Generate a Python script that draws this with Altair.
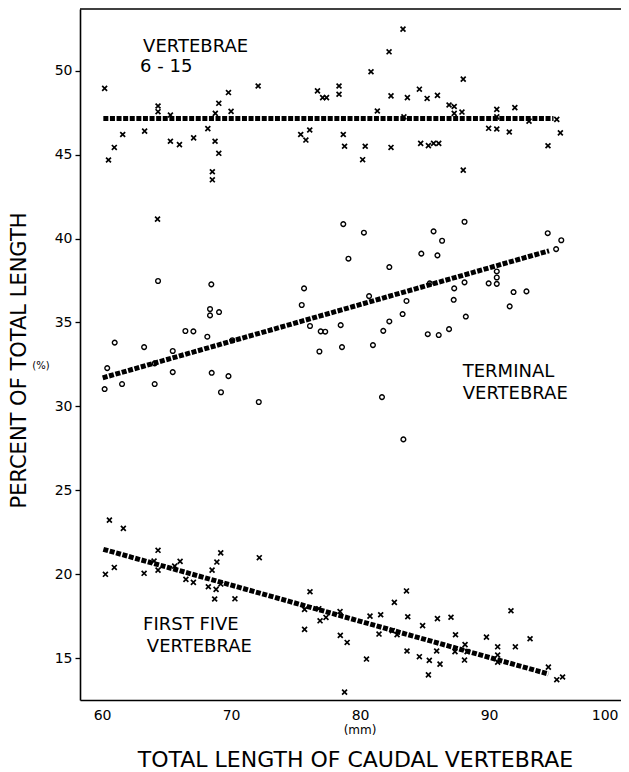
import altair as alt
import pandas as pd

# ---- data ----
# Vertebrae 6-15 (x markers)
top_x = [60.2, 60.5, 60.95, 61.6, 63.3, 64.34, 64.34, 64.3, 65.3, 65.3, 66.0, 67.1, 68.2, 68.76, 69.05,
         68.55, 68.55, 68.78, 69.05, 69.8, 70.0, 72.1, 75.4, 75.8, 76.1, 76.7, 77.1, 77.4, 78.37, 78.37,
         78.7, 78.8, 80.4, 80.2, 80.85, 82.25, 83.33, 81.34, 82.4, 82.4, 83.67, 83.4, 84.6, 85.2, 86.0,
         84.7, 85.3, 85.7, 86.1, 86.9, 87.3, 87.3, 87.9, 88.0, 88.0, 90.6, 90.6, 89.97, 90.6, 92.0,
         91.57, 93.1, 95.25, 95.53, 94.57]
top_y = [48.95, 44.68, 45.43, 46.2, 46.4, 47.9, 47.56, 41.16, 47.36, 45.8, 45.6, 46.0, 46.55, 45.8, 45.08,
         43.98, 43.5, 47.46, 48.06, 48.7, 47.58, 49.09, 46.2, 45.87, 46.47, 48.8, 48.4, 48.4, 49.09, 48.6,
         46.2, 45.5, 45.5, 44.7, 49.94, 51.13, 52.48, 47.6, 48.5, 45.43, 48.4, 47.25, 48.9, 48.35, 48.53,
         45.67, 45.54, 45.67, 45.67, 47.96, 47.87, 47.46, 47.54, 49.5, 44.08, 47.7, 47.25, 46.57, 46.53, 47.8,
         46.35, 47.0, 47.1, 46.3, 45.53]

# Terminal vertebrae (open circles)
mid_x = [60.2, 60.4, 60.98, 61.55, 63.26, 64.08, 64.08, 64.34, 65.48, 65.48, 66.46, 67.08, 68.16, 68.37,
         68.37, 68.47, 68.5, 69.07, 69.22, 69.8, 70.1, 72.15, 75.48, 75.66, 76.12, 76.95, 77.3, 76.85,
         78.5, 78.6, 79.1, 78.7, 80.3, 80.7, 81.0, 81.8, 82.27, 82.27, 81.7, 83.36, 83.3, 83.6, 84.75,
         86.0, 85.7, 86.36, 85.4, 85.25, 86.1, 86.9, 87.3, 87.26, 88.1, 88.2, 88.1, 89.97, 90.6, 90.6,
         90.6, 91.9, 92.9, 91.6, 94.55, 95.6, 95.2]
mid_y = [31.03, 32.28, 33.8, 31.33, 33.53, 32.56, 31.33, 37.47, 33.3, 32.04, 34.49, 34.47, 34.15, 35.42,
         35.8, 37.27, 32.0, 35.62, 30.84, 31.8, 33.94, 30.26, 36.04, 37.03, 34.79, 34.47, 34.45, 33.27,
         34.84, 33.53, 38.8, 40.86, 40.35, 36.57, 33.65, 34.5, 35.06, 38.3, 30.55, 28.03, 35.5, 36.28, 39.1,
         39.0, 40.43, 39.87, 37.33, 34.3, 34.25, 34.6, 37.03, 36.35, 37.39, 35.35, 41.0, 37.33, 38.04, 37.68,
         37.3, 36.81, 36.85, 35.96, 40.32, 39.9, 39.37]

# First five vertebrae (x markers)
bot_x = [60.26, 60.57, 60.95, 61.65, 63.26, 64.03, 64.34, 64.34, 65.63, 66.05, 66.5, 67.08, 68.24, 68.53,
         68.9, 69.2, 69.2, 68.84, 68.73, 70.3, 72.19, 75.7, 75.7, 76.12, 76.8, 76.9, 77.36, 78.45, 78.47,
         79.0, 78.8, 80.5, 80.77, 81.6, 81.47, 82.66, 82.5, 82.87, 83.6, 83.7, 84.85, 83.64, 84.6, 85.37,
         85.3, 86.2, 85.94, 86.0, 87.05, 87.4, 87.36, 88.14, 88.3, 88.1, 89.8, 90.67, 90.67, 90.67, 91.7,
         92.04, 93.18, 94.6, 95.25, 95.7]
bot_y = [19.99, 23.22, 20.4, 22.73, 20.05, 20.78, 21.42, 20.24, 20.48, 20.76, 19.69, 19.51, 19.25, 20.24,
         20.72, 21.27, 19.41, 19.09, 18.52, 18.53, 20.98, 17.9, 16.71, 18.95, 17.94, 17.22, 17.42, 17.77, 16.35,
         15.93, 12.97, 14.94, 17.5, 17.58, 16.43, 18.32, 16.63, 16.39, 19.0, 17.46, 16.93, 15.42, 15.08, 14.86,
         14.0, 14.64, 15.42, 17.35, 17.43, 16.39, 15.38, 15.8, 15.38, 14.88, 16.25, 15.67, 15.18, 14.76, 17.82,
         15.67, 16.15, 14.46, 13.71, 13.87]

# Fitted lines (endpoints)
line_group = ["top", "top", "mid", "mid", "bot", "bot"]
line_x = [60.1, 95.0, 60.05, 94.65, 60.1, 94.6]
line_y = [47.15, 47.15, 31.7, 39.27, 21.48, 14.05]

# Annotations
note_text = ["VERTEBRAE", "6 - 15", "TERMINAL", "VERTEBRAE", "FIRST FIVE", "VERTEBRAE"]
note_x = [63.18, 62.95, 87.96, 87.96, 63.18, 63.47]
note_y = [51.11, 49.92, 31.75, 30.43, 16.67, 15.38]

x_ticks = [60, 70, 80, 90, 100]
y_ticks = [15, 20, 25, 30, 35, 40, 45, 50]

W, H = 541, 691
FONT = "DejaVu Sans"

xs = alt.Scale(domain=[58.29, 100.23], nice=False, zero=False)
ys = alt.Scale(domain=[12.5, 53.68], nice=False, zero=False)

xcross = pd.DataFrame({"x": top_x + bot_x, "y": top_y + bot_y})
circ = pd.DataFrame({"x": mid_x, "y": mid_y})
lines = pd.DataFrame({"g": line_group, "x": line_x, "y": line_y})
notes = pd.DataFrame({"t": note_text, "x": note_x, "y": note_y})

xenc = alt.X("x:Q", scale=xs, axis=alt.Axis(
    values=x_ticks, ticks=False, labelPadding=8, grid=False, labelFlush=6,
    title="TOTAL LENGTH OF CAUDAL VERTEBRAE", titleFontSize=22, titleFontWeight="normal",
    titleX=275, titleY=66, titleBaseline="alphabetic", titleAlign="center"))
yenc = alt.Y("y:Q", scale=ys, axis=alt.Axis(
    values=y_ticks, tickSize=5, labelPadding=3, grid=False,
    title="PERCENT OF TOTAL LENGTH", titleFontSize=21, titleFontWeight="normal",
    titleAngle=-90, titleX=-55, titleY=351, titleBaseline="alphabetic", titleAlign="center"))

pts_x = alt.Chart(xcross).mark_point(
    shape="M-1,-1L1,1M1,-1L-1,1", size=24, strokeWidth=1.7, filled=False, color="black", opacity=1
).encode(x=xenc, y=yenc)

pts_o = alt.Chart(circ).mark_point(
    shape="circle", size=22, strokeWidth=1.4, filled=False, color="black", opacity=1
).encode(x="x:Q", y="y:Q")

fit = alt.Chart(lines).mark_line(
    color="black", strokeWidth=5, strokeDash=[5, 1.6], strokeCap="butt"
).encode(x="x:Q", y="y:Q", detail="g:N")

txt = alt.Chart(notes).mark_text(
    align="left", baseline="alphabetic", font=FONT, fontSize=18, color="black"
).encode(x="x:Q", y="y:Q", text="t:N")

mm = alt.Chart(pd.DataFrame({"x": [80], "t": ["(mm)"]})).mark_text(
    align="center", baseline="middle", font=FONT, fontSize=12, color="black"
).encode(x="x:Q", y=alt.value(721), text="t:N")

pct = alt.Chart(pd.DataFrame({"y": [32.4], "t": ["(%)"]})).mark_text(
    align="center", baseline="middle", font=FONT, fontSize=10, color="black"
).encode(x=alt.value(-39), y="y:Q", text="t:N")

topline = alt.Chart(pd.DataFrame({"a": [0]})).mark_rule(color="black", strokeWidth=1.6).encode(
    x=alt.value(0), x2=alt.value(W), y=alt.value(0))

chart = alt.layer(pts_x, pts_o, fit, txt, mm, pct, topline).properties(
    width=W, height=H,
    autosize=alt.AutoSizeParams(type="none"),
    padding={"left": 72, "top": 1, "right": 0, "bottom": 70},
).configure_view(stroke=None).configure_axis(
    labelFont=FONT, titleFont=FONT, labelFontSize=14, labelColor="black", titleColor="black",
    domainColor="black", domainWidth=1.6, tickColor="black", tickWidth=1.3,
)

chart.save("out.html", embed_options={"renderer": "svg", "actions": False})
